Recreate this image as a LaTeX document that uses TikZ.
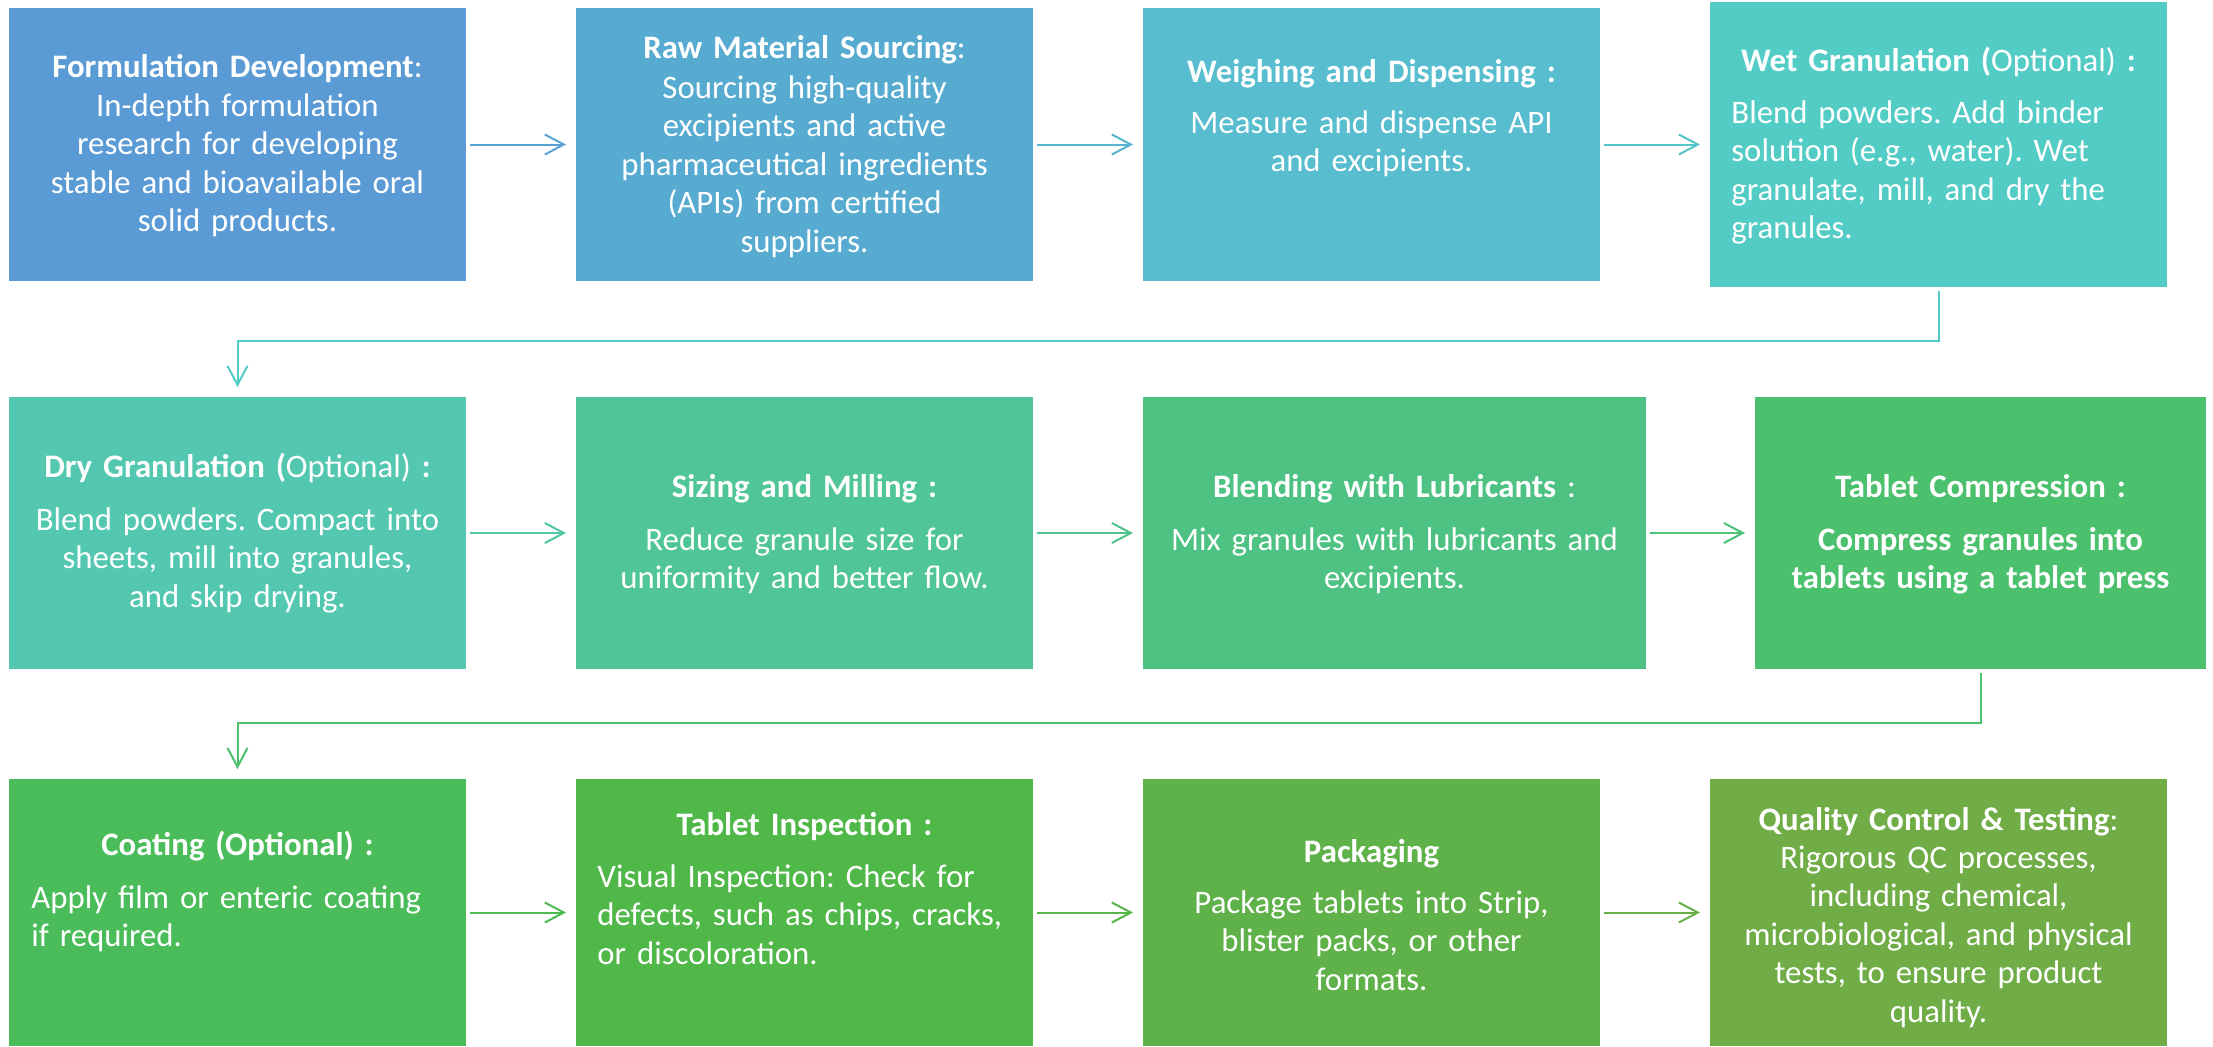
\documentclass[tikz,border=0pt]{standalone}
\usepackage{fontspec}
\setmainfont{Carlito}
\frenchspacing
\usetikzlibrary{arrows.meta}
\definecolor{cA}{HTML}{5B9BD5}
\definecolor{cB}{HTML}{57ABD1}
\definecolor{cC}{HTML}{57BDCF}
\definecolor{cD}{HTML}{53CCC6}
\definecolor{cE}{HTML}{53C7B0}
\definecolor{cF}{HTML}{50C598}
\definecolor{cG}{HTML}{4DC282}
\definecolor{cH}{HTML}{4BC06D}
\definecolor{cI}{HTML}{4ABD5A}
\definecolor{cJ}{HTML}{50B848}
\definecolor{cK}{HTML}{5FB24A}
\definecolor{cL}{HTML}{70AD47}
\newcommand\mkbox[6]{\node[boxst, fill=#2, minimum width={(#5-#3)*0.5pt}, minimum height={(#6-#4)*0.5pt}] (#1) at ({(#3+#5)/2},{(#4+#6)/2}) {};}
\tikzset{
  boxst/.style={draw=none, inner sep=0pt, outer sep=0pt, rectangle},
  txt/.style={text=white, inner sep=0pt, font=\fontsize{16.4pt}{19.25pt}\selectfont\frenchspacing},
  ttl/.style={txt, anchor=base, text width=245pt, align=center},
  bodyc/.style={txt, anchor=base, text width=245pt, align=center},
  bodyl/.style={txt, anchor=base west, text width=225pt, align=left},
  arr/.style={line width=1pt, -{Straight Barb[length=9.5pt,width=10pt]}},
}
\begin{document}
\begin{tikzpicture}[x=0.5pt, y=-0.5pt]
\useasboundingbox[fill=white] (0,0) rectangle (2213,1046);
% row 1
\mkbox{b1}{cA}{9}{8}{466}{281}
\mkbox{b2}{cB}{576}{8}{1033}{281}
\mkbox{b3}{cC}{1143}{8}{1600}{281}
\mkbox{b4}{cD}{1710}{2}{2167}{287}
% row 2
\mkbox{b5}{cE}{9}{397}{466}{669}
\mkbox{b6}{cF}{576}{397}{1033}{669}
\mkbox{b7}{cG}{1143}{397}{1646}{669}
\mkbox{b8}{cH}{1755}{397}{2206}{669}
% row 3
\mkbox{b9}{cI}{9}{779}{466}{1046}
\mkbox{b10}{cJ}{576}{779}{1033}{1046}
\mkbox{b11}{cK}{1143}{779}{1600}{1046}
\mkbox{b12}{cL}{1710}{779}{2167}{1046}

% texts row 1
\node[ttl] (t1) at (237.5,77) {\textbf{Formulation Development}:};
\node[bodyc] (d1) at (237.5,116) {In-depth formulation\\research for developing\\stable and bioavailable oral\\solid products.};
\node[ttl] (t2) at (804.5,58) {\textbf{Raw Material Sourcing}:};
\node[bodyc] (d2) at (804.5,98) {Sourcing high-quality\\excipients and active\\pharmaceutical ingredients\\(APIs) from certified\\suppliers.};
\node[ttl] (t3) at (1371.5,82) {\textbf{Weighing and Dispensing :}};
\node[bodyc] (d3) at (1371.5,133) {Measure and dispense API\\and excipients.};
\node[ttl] (t4) at (1938.5,71) {\textbf{Wet Granulation (}Optional)\textbf{ :}};
\node[bodyl] (d4) at (1731,123) {Blend powders. Add binder\\solution (e.g., water). Wet\\granulate, mill, and dry the\\granules.};
% texts row 2
\node[ttl] (t5) at (237.5,477) {\textbf{Dry Granulation (}Optional)\textbf{ :}};
\node[bodyc] (d5) at (237.5,530) {Blend powders. Compact into\\sheets, mill into granules,\\and skip drying.};
\node[ttl] (t6) at (804.5,497) {\textbf{Sizing and Milling :}};
\node[bodyc] (d6) at (804.5,550) {Reduce granule size for\\uniformity and better flow.};
\node[ttl] (t7) at (1394.5,497) {\textbf{Blending with Lubricants} :};
\node[bodyc] (d7) at (1394.5,550) {Mix granules with lubricants and\\excipients.};
\node[ttl] (t8) at (1980.5,497) {\textbf{Tablet Compression :}};
\node[bodyc, font=\fontsize{16.4pt}{19.25pt}\selectfont\bfseries] (d8) at (1980.5,550) {Compress granules into\\tablets using a tablet press};
% texts row 3
\node[ttl] (t9) at (237.5,855) {\textbf{Coating (Optional) :}};
\node[bodyl] (d9) at (31,908) {Apply film or enteric coating\\if required.};
\node[ttl] (t10) at (804.5,835) {\textbf{Tablet Inspection :}};
\node[bodyl] (d10) at (597,887) {Visual Inspection: Check for\\defects, such as chips, cracks,\\or discoloration.};
\node[ttl] (t11) at (1371.5,862) {\textbf{Packaging}};
\node[bodyc] (d11) at (1371.5,913) {Package tablets into Strip,\\blister packs, or other\\formats.};
\node[ttl] (t12) at (1938.5,830) {\textbf{Quality Control \& Testing}:};
\node[bodyc] (d12) at (1938.5,868) {Rigorous QC processes,\\including chemical,\\microbiological, and physical\\tests, to ensure product\\quality.};

% connectors
\draw[arr, draw=cA!55!cB] ([xshift=2pt]b1.east) -- ([xshift=-5pt]b2.west);
\draw[arr, draw=cB!55!cC] ([xshift=2pt]b2.east) -- ([xshift=-5pt]b3.west);
\draw[arr, draw=cC!55!cD] ([xshift=2pt]b3.east) -- ([xshift=-5pt]b4.west);
\draw[arr, draw=cD] ([yshift=-2pt]b4.south) -- (b4.south |- 0,341) -| ([yshift=5pt]b5.north);
\draw[arr, draw=cE!55!cF] ([xshift=2pt]b5.east) -- ([xshift=-5pt]b6.west);
\draw[arr, draw=cF!55!cG] ([xshift=2pt]b6.east) -- ([xshift=-5pt]b7.west);
\draw[arr, draw=cG!55!cH] ([xshift=2pt]b7.east) -- ([xshift=-5pt]b8.west);
\draw[arr, draw=cH] ([yshift=-2pt]b8.south) -- (b8.south |- 0,723) -| ([yshift=5pt]b9.north);
\draw[arr, draw=cI!55!cJ] ([xshift=2pt]b9.east) -- ([xshift=-5pt]b10.west);
\draw[arr, draw=cJ!55!cK] ([xshift=2pt]b10.east) -- ([xshift=-5pt]b11.west);
\draw[arr, draw=cK!55!cL] ([xshift=2pt]b11.east) -- ([xshift=-5pt]b12.west);
\end{tikzpicture}
\end{document}
